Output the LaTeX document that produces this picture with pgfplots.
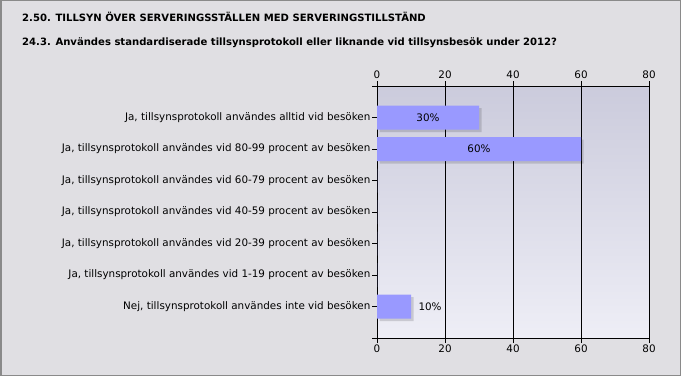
\documentclass[border=0pt]{standalone}
\usepackage{pgfplots}
\pgfplotsset{compat=1.18}
\usepackage{fontspec}
\setmainfont{DejaVu Sans}
\usetikzlibrary{shadows}
\definecolor{outerbg}{HTML}{E0DFE3}
\definecolor{plottop}{HTML}{CBCBDC}
\definecolor{plotbot}{HTML}{EEEEF6}
\definecolor{barcol}{HTML}{9999FF}
\definecolor{framecol}{HTML}{8A8A8A}
\begin{document}
\begin{tikzpicture}[x=1bp,y=1bp,font=\fontsize{10.4}{12}\selectfont]
\fill[outerbg] (0,0) rectangle (681,376);
\draw[framecol, line width=1.5bp] (0.75,0.75) rectangle (680.25,375.25);
\node[anchor=base west, inner sep=0pt, font=\fontsize{10.1}{12}\selectfont\bfseries] at (22,376-21) {2.50. TILLSYN ÖVER SERVERINGSSTÄLLEN MED SERVERINGSTILLSTÄND};
\node[anchor=base west, inner sep=0pt, font=\fontsize{10.1}{12}\selectfont\bfseries] at (22,376-45) {24.3. Användes standardiserade tillsynsprotokoll eller liknande vid tillsynsbesök under 2012?};
\begin{axis}[
  at={(377bp,38bp)}, anchor=south west,
  scale only axis, width=272bp, height=252bp,
  xmin=0, xmax=80, ymin=0, ymax=8, y dir=reverse,
  xtick={0,20,40,60,80}, xtick pos=lower,
  ytick={1,2,3,4,5,6,7}, ytick pos=left,
  yticklabels={
    {Ja, tillsynsprotokoll användes alltid vid besöken},
    {Ja, tillsynsprotokoll användes vid 80-99 procent av besöken},
    {Ja, tillsynsprotokoll användes vid 60-79 procent av besöken},
    {Ja, tillsynsprotokoll användes vid 40-59 procent av besöken},
    {Ja, tillsynsprotokoll användes vid 20-39 procent av besöken},
    {Ja, tillsynsprotokoll användes vid 1-19 procent av besöken},
    {Nej, tillsynsprotokoll användes inte vid besöken}},
  extra y ticks={0,8}, extra y tick labels={},
  tick align=outside, major tick length=5bp,
  tick style={black, line width=0.8bp},
  axis line style={black, line width=0.8bp},
  xmajorgrids, major grid style={black, line width=0.8bp},
  axis background/.style={top color=plottop, bottom color=plotbot},
  tick label style={font=\fontsize{10.4}{12}\selectfont},
  yticklabel style={inner sep=1.5bp},
  xticklabel style={inner sep=2bp},
  /pgf/number format/assume math mode=true,
  xbar, bar width=24bp,
]
\addplot[draw=none, fill=barcol,
  drop shadow={shadow xshift=2.5bp, shadow yshift=-2.5bp, fill=black, opacity=0.14}]
  coordinates {(30,1) (60,2) (0,3) (0,4) (0,5) (0,6) (10,7)};
\node at (axis cs:15,1) {30\%};
\node at (axis cs:30,2) {60\%};
\node[anchor=west] at (axis cs:10,7) {\hspace{4bp}10\%};
\end{axis}
\begin{axis}[
  at={(377bp,38bp)}, anchor=south west,
  scale only axis, width=272bp, height=252bp,
  xmin=0, xmax=80, ymin=0, ymax=8,
  axis x line*=top, axis y line=none,
  xtick={0,20,40,60,80},
  tick align=outside, major tick length=5bp,
  tick style={black, line width=0.8bp},
  axis line style={black, line width=0.8bp},
  tick label style={font=\fontsize{10.4}{12}\selectfont},
  xticklabel style={inner sep=2bp},
  /pgf/number format/assume math mode=true,
]
\addplot[draw=none] coordinates {(0,0)};
\end{axis}
\end{tikzpicture}
\end{document}
